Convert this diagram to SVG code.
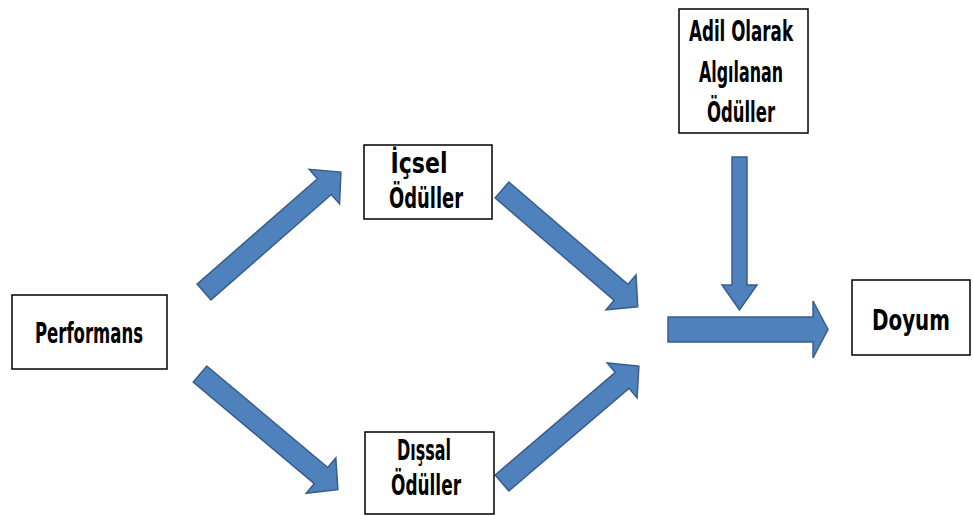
<svg xmlns="http://www.w3.org/2000/svg" width="973" height="516" viewBox="0 0 973 516">
<style>
.box{fill:#fff;stroke:#000;stroke-width:1.5}
.arr{fill:#4F81BD;stroke:#385D8A;stroke-width:1.5;stroke-linejoin:miter}
.t{font-family:'Liberation Sans Narrow','DejaVu Sans Condensed','DejaVu Sans',sans-serif;font-weight:bold;fill:#000;text-anchor:middle}
</style>
<rect width="973" height="516" fill="#fff"/>
<g id="connectors">
<path class="arr" transform="translate(204,292) rotate(-41.2)" d="M0,-10.5 L160,-10.5 L160,-23 L182,0 L160,23 L160,10.5 L0,10.5 Z"/>
<path class="arr" transform="translate(200,374) rotate(40)" d="M0,-10.5 L158,-10.5 L158,-23 L180,0 L158,23 L158,10.5 L0,10.5 Z"/>
<path class="arr" transform="translate(502,190) rotate(40.7)" d="M0,-10.5 L157,-10.5 L157,-23 L179,0 L157,23 L157,10.5 L0,10.5 Z"/>
<path class="arr" transform="translate(502,483) rotate(-40.5)" d="M0,-10.5 L158,-10.5 L158,-23 L180,0 L158,23 L158,10.5 L0,10.5 Z"/>
<path class="arr" transform="translate(668,329.5)" d="M0,-12.5 L145,-12.5 L145,-28.5 L160,0 L145,28.5 L145,12.5 L0,12.5 Z"/>
<path class="arr" transform="translate(739.5,157) rotate(90)" d="M0,-7.5 L128,-7.5 L128,-17.5 L153,0 L128,17.5 L128,7.5 L0,7.5 Z"/>
</g>
<g id="performans">
<rect class="box" x="12" y="295" width="155" height="74"/>
<text class="t" font-size="28" x="89" y="343" textLength="108" lengthAdjust="spacingAndGlyphs">Performans</text>
</g>
<g id="icsel">
<rect class="box" x="364" y="145" width="128" height="74"/>
<text class="t" font-size="28" x="419" y="173" textLength="57" lengthAdjust="spacingAndGlyphs">İçsel</text>
<text class="t" font-size="28" x="426" y="208" textLength="74" lengthAdjust="spacingAndGlyphs">Ödüller</text>
</g>
<g id="dissal">
<rect class="box" x="365" y="432" width="129" height="82"/>
<text class="t" font-size="28" x="424" y="460" textLength="54" lengthAdjust="spacingAndGlyphs">Dışsal</text>
<text class="t" font-size="28" x="426" y="495" textLength="70" lengthAdjust="spacingAndGlyphs">Ödüller</text>
</g>
<g id="adil">
<rect class="box" x="679" y="9" width="129" height="124"/>
<text class="t" font-size="28" x="741" y="41" textLength="104" lengthAdjust="spacingAndGlyphs">Adil Olarak</text>
<text class="t" font-size="28" x="741" y="82" textLength="84" lengthAdjust="spacingAndGlyphs">Algılanan</text>
<text class="t" font-size="28" x="741" y="122" textLength="68" lengthAdjust="spacingAndGlyphs">Ödüller</text>
</g>
<g id="doyum">
<rect class="box" x="852" y="280" width="118" height="75"/>
<text class="t" font-size="28" x="911" y="330" textLength="78" lengthAdjust="spacingAndGlyphs">Doyum</text>
</g>
</svg>
